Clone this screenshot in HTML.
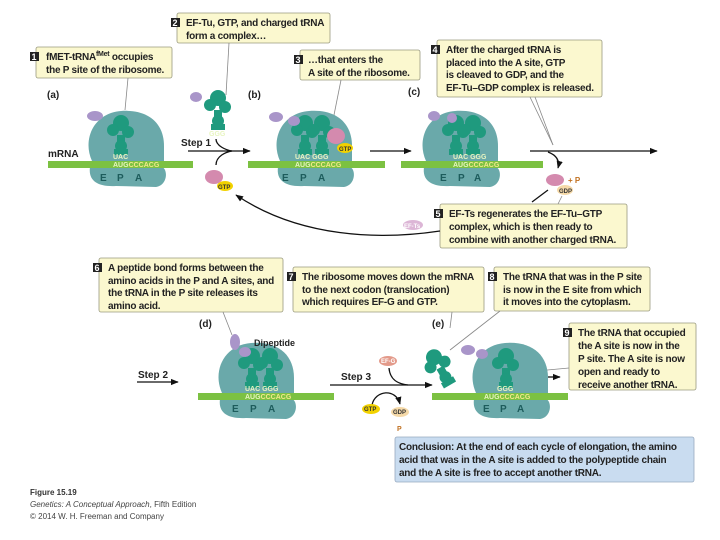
<!DOCTYPE html>
<html><head><meta charset="utf-8"><style>
html,body{margin:0;padding:0;background:#fff}
svg{display:block;font-family:"Liberation Sans",sans-serif}
.cb{fill:#fbf8cf;stroke:#9a9a80;stroke-width:.8}
.t{font-size:10px;font-weight:bold;fill:#222;letter-spacing:-0.25px}
.n{font-size:9px;font-weight:bold;fill:#fff}
.nb{fill:#222}
.s{font-size:10px;font-weight:bold;fill:#1d5c5c}
.c{font-size:7px;font-weight:bold;fill:#e8f5c0}
.lbl{font-size:10px;font-weight:bold;fill:#222}
.ln{stroke:#888;stroke-width:.8;fill:none}
.ar{stroke:#111;stroke-width:1.3;fill:none}
</style></head><body>
<svg width="720" height="540" viewBox="0 0 720 540">
<defs>
<marker id="m" viewBox="0 0 10 10" refX="9" refY="5" markerWidth="6" markerHeight="6" orient="auto"><path d="M0,1 L10,5 L0,9 z" fill="#111"/></marker>
<g id="rib">
<path d="M-34,0 C-44,-22 -32,-48 -5,-50 C22,-52 38,-38 38,-15 L38,0 Z" fill="#6aa9aa"/>
<path d="M-36,6 C-38,20 -28,26 -10,25 L30,26 C42,24 42,8 36,6 Z" fill="#6aa9aa"/>
</g>
<g id="trna">
<circle cx="0" cy="-32" r="8" fill="#1f9a7e"/><circle cx="-8" cy="-25" r="6" fill="#1f9a7e"/><circle cx="7" cy="-23" r="6" fill="#1f9a7e"/>
<rect x="-4" y="-20" width="8" height="8" fill="#1f9a7e"/><circle cx="0" cy="-9" r="6" fill="#1f9a7e"/><rect x="-7" y="-6" width="14" height="6" fill="#1f9a7e"/>
</g>
</defs>

<rect class="cb" x="36" y="47" width="136" height="31" rx="2"/>
<rect x="30" y="52" width="9" height="9" class="nb"/><text x="31.5" y="60" class="n">1</text>
<text x="46" y="60" class="t">fMET-tRNA<tspan font-size="7" dy="-4">fMet</tspan><tspan dy="4"> occupies</tspan></text>
<text x="46" y="73" class="t">the P site of the ribosome.</text>
<line class="ln" x1="128" y1="78" x2="125" y2="110"/>
<rect class="cb" x="177" y="13" width="153" height="30" rx="2"/>
<rect x="171" y="18" width="9" height="9" class="nb"/><text x="172.5" y="26" class="n">2</text>
<text x="186" y="26" class="t">EF-Tu, GTP, and charged tRNA</text>
<text x="186" y="39" class="t">form a complex…</text>
<line class="ln" x1="229" y1="43" x2="226" y2="95"/>
<rect class="cb" x="300" y="50" width="120" height="30" rx="2"/>
<rect x="294" y="55" width="9" height="9" class="nb"/><text x="295.5" y="63" class="n">3</text>
<text x="308" y="63" class="t">…that enters the</text>
<text x="308" y="76" class="t">A site of the ribosome.</text>
<line class="ln" x1="341" y1="80" x2="334" y2="115"/>
<rect class="cb" x="437" y="40" width="165" height="57" rx="2"/>
<rect x="431" y="45" width="9" height="9" class="nb"/><text x="432.5" y="53" class="n">4</text>
<text x="446" y="53" class="t">After the charged tRNA is</text>
<text x="446" y="66" class="t">placed into the A site, GTP</text>
<text x="446" y="78" class="t">is cleaved to GDP, and the</text>
<text x="446" y="91" class="t">EF-Tu–GDP complex is released.</text>
<line class="ln" x1="530" y1="97" x2="553" y2="145"/><line class="ln" x1="535" y1="97" x2="553" y2="145"/>
<rect class="cb" x="440" y="204" width="187" height="44" rx="2"/>
<rect x="434" y="209" width="9" height="9" class="nb"/><text x="435.5" y="217" class="n">5</text>
<text x="449" y="217" class="t">EF-Ts regenerates the EF-Tu–GTP</text>
<text x="449" y="230" class="t">complex, which is then ready to</text>
<text x="449" y="243" class="t">combine with another charged tRNA.</text>
<line class="ln" x1="558" y1="204" x2="562" y2="196"/>
<rect class="cb" x="99" y="258" width="184" height="54" rx="2"/>
<rect x="93" y="263" width="9" height="9" class="nb"/><text x="94.5" y="271" class="n">6</text>
<text x="108" y="271" class="t">A peptide bond forms between the</text>
<text x="108" y="284" class="t">amino acids in the P and A sites, and</text>
<text x="108" y="296" class="t">the tRNA in the P site releases its</text>
<text x="108" y="309" class="t">amino acid.</text>
<line class="ln" x1="223" y1="312" x2="232" y2="335"/>
<rect class="cb" x="293" y="267" width="191" height="45" rx="2"/>
<rect x="287" y="272" width="9" height="9" class="nb"/><text x="288.5" y="280" class="n">7</text>
<text x="302" y="280" class="t">The ribosome moves down the mRNA</text>
<text x="302" y="293" class="t">to the next codon (translocation)</text>
<text x="302" y="305" class="t">which requires EF-G and GTP.</text>
<line class="ln" x1="452" y1="312" x2="450" y2="328"/>
<rect class="cb" x="494" y="267" width="156" height="44" rx="2"/>
<rect x="488" y="272" width="9" height="9" class="nb"/><text x="489.5" y="280" class="n">8</text>
<text x="503" y="280" class="t">The tRNA that was in the P site</text>
<text x="503" y="293" class="t">is now in the E site from which</text>
<text x="503" y="305" class="t">it moves into the cytoplasm.</text>
<line class="ln" x1="500" y1="311" x2="450" y2="350"/>
<rect class="cb" x="569" y="323" width="127" height="67" rx="2"/>
<rect x="563" y="328" width="9" height="9" class="nb"/><text x="564.5" y="336" class="n">9</text>
<text x="578" y="336" class="t">The tRNA that occupied</text>
<text x="578" y="349" class="t">the A site is now in the</text>
<text x="578" y="362" class="t">P site. The A site is now</text>
<text x="578" y="375" class="t">open and ready to</text>
<text x="578" y="388" class="t">receive another tRNA.</text>
<line class="ln" x1="569" y1="368" x2="515" y2="373"/>
<rect x="395" y="437" width="299" height="45" rx="2" fill="#c9dcf0" stroke="#98aac0" stroke-width=".8"/>
<text x="399" y="450" class="t">Conclusion: At the end of each cycle of elongation, the amino</text>
<text x="399" y="463" class="t">acid that was in the A site is added to the polypeptide chain</text>
<text x="399" y="476" class="t">and the A site is free to accept another tRNA.</text>

<text x="47" y="98" class="lbl">(a)</text><text x="248" y="98" class="lbl">(b)</text><text x="408" y="95" class="lbl">(c)</text>
<text x="199" y="327" class="lbl">(d)</text><text x="432" y="327" class="lbl">(e)</text>
<text x="48" y="157" class="lbl">mRNA</text>

<!-- (a) -->
<use href="#rib" x="126" y="161"/>
<rect x="48" y="161" width="145" height="7" fill="#7cc142"/>
<use href="#trna" x="121" y="155"/>
<ellipse cx="95" cy="116" rx="8" ry="5" fill="#a995c9"/>
<text x="113" y="159" class="c">UAC</text><text x="113" y="167" class="c">AUG<tspan fill="#f4e98a">CCCACG</tspan></text>
<text x="100" y="181" class="s">E</text><text x="117" y="181" class="s">P</text><text x="135" y="181" class="s">A</text>

<!-- free complex -->
<use href="#trna" x="218" y="130"/>
<ellipse cx="196" cy="97" rx="6" ry="5" fill="#a995c9"/>
<text x="209" y="136" class="c">GGG</text>
<text x="181" y="146" class="lbl">Step 1</text>
<line class="ar" x1="188" y1="151" x2="250" y2="151" marker-end="url(#m)"/>
<path class="ar" d="M216,139 C216,146 226,150 232,151"/>
<path class="ar" d="M216,165 C216,156 226,152 232,151"/>
<ellipse cx="214" cy="177" rx="9" ry="7" fill="#d48aae"/>
<ellipse cx="225" cy="186" rx="8" ry="5" fill="#f2d200"/>
<text x="218" y="189" font-size="6" font-weight="bold" fill="#333">GTP</text>
<path class="ar" d="M440,231 C380,240 300,238 236,195" marker-end="url(#m)"/>
<line class="ar" x1="548" y1="190" x2="532" y2="202"/>
<ellipse cx="413" cy="225" rx="10" ry="5" fill="#dcb6d6"/><text x="404" y="228" font-size="6" fill="#fff" font-weight="bold">EF-Ts</text>

<!-- (b) -->
<use href="#rib" x="314" y="161"/>
<rect x="248" y="161" width="137" height="7" fill="#7cc142"/>
<use href="#trna" x="305" y="155"/><use href="#trna" x="322" y="155"/>
<ellipse cx="276" cy="117" rx="7" ry="5" fill="#a995c9"/><ellipse cx="294" cy="121" rx="6" ry="5" fill="#a995c9"/>
<ellipse cx="336" cy="136" rx="9" ry="8" fill="#d48aae"/><ellipse cx="345" cy="148" rx="8" ry="5" fill="#f2d200"/>
<text x="339" y="151" font-size="6" font-weight="bold" fill="#333">GTP</text>
<text x="295" y="159" class="c">UAC GGG</text><text x="295" y="167" class="c">AUG<tspan fill="#f4e98a">CCCACG</tspan></text>
<text x="282" y="181" class="s">E</text><text x="300" y="181" class="s">P</text><text x="318" y="181" class="s">A</text>
<line class="ar" x1="370" y1="151" x2="411" y2="151" marker-end="url(#m)"/>

<!-- (c) -->
<use href="#rib" x="460" y="161"/>
<rect x="401" y="161" width="142" height="7" fill="#7cc142"/>
<use href="#trna" x="456" y="155"/><use href="#trna" x="473" y="155"/>
<ellipse cx="434" cy="116" rx="6" ry="5" fill="#a995c9"/><ellipse cx="452" cy="118" rx="5" ry="5" fill="#a995c9"/>
<text x="453" y="159" class="c">UAC GGG</text><text x="453" y="167" class="c">AUG<tspan fill="#f4e98a">CCCACG</tspan></text>
<text x="440" y="181" class="s">E</text><text x="458" y="181" class="s">P</text><text x="474" y="181" class="s">A</text>
<line class="ar" x1="530" y1="151" x2="657" y2="151" marker-end="url(#m)"/>
<path class="ar" d="M548,152 C556,155 560,160 558,168" marker-end="url(#m)"/>
<ellipse cx="555" cy="180" rx="9" ry="6" fill="#d48aae"/><ellipse cx="565" cy="190" rx="8" ry="5" fill="#f5d9a8"/>
<text x="559" y="193" font-size="6" font-weight="bold" fill="#333">GDP</text>
<text x="568" y="183" font-size="8" font-weight="bold" fill="#c07020">+ P</text>

<!-- (d) -->
<use href="#rib" x="256" y="393"/>
<rect x="198" y="393" width="136" height="7" fill="#7cc142"/>
<use href="#trna" x="252" y="388"/><use href="#trna" x="270" y="388"/>
<ellipse cx="235" cy="342" rx="5" ry="8" fill="#a995c9"/><ellipse cx="245" cy="352" rx="6" ry="5" fill="#a995c9"/>
<text x="254" y="346" font-size="9" font-weight="bold" fill="#222">Dipeptide</text>
<text x="245" y="391" class="c">UAC GGG</text><text x="245" y="399" class="c">AUG<tspan fill="#f4e98a">CCCACG</tspan></text>
<text x="232" y="412" class="s">E</text><text x="250" y="412" class="s">P</text><text x="268" y="412" class="s">A</text>
<text x="138" y="378" class="lbl">Step 2</text>
<line class="ar" x1="137" y1="382" x2="178" y2="382" marker-end="url(#m)"/>
<text x="341" y="380" class="lbl">Step 3</text>
<line class="ar" x1="330" y1="385" x2="432" y2="385" marker-end="url(#m)"/>
<ellipse cx="388" cy="361" rx="9" ry="5" fill="#e39a8a"/><text x="381" y="363" font-size="6" fill="#fff" font-weight="bold">EF-G</text>
<path class="ar" d="M389,368 C390,380 398,384 408,385"/>
<path class="ar" d="M372,405 C375,390 396,388 400,404" marker-end="url(#m)"/>
<ellipse cx="371" cy="409" rx="9" ry="5" fill="#f2d200"/><text x="364" y="411" font-size="6" font-weight="bold" fill="#333">GTP</text>
<ellipse cx="400" cy="412" rx="9" ry="5" fill="#f5d9a8"/><text x="393" y="414" font-size="6" font-weight="bold" fill="#333">GDP</text>
<text x="397" y="431" font-size="7" font-weight="bold" fill="#c07020">P</text>

<!-- (e) -->
<use href="#rib" x="510" y="393"/>
<rect x="432" y="393" width="136" height="7" fill="#7cc142"/>
<g transform="translate(450,385) rotate(-30)"><use href="#trna"/></g>
<use href="#trna" x="506" y="388"/>
<ellipse cx="468" cy="350" rx="7" ry="5" fill="#a995c9"/><ellipse cx="482" cy="354" rx="6" ry="5" fill="#a995c9"/>
<text x="484" y="399" class="c">AUG<tspan fill="#f4e98a">CCCACG</tspan></text><text x="497" y="391" class="c">GGG</text>
<text x="483" y="412" class="s">E</text><text x="500" y="412" class="s">P</text><text x="517" y="412" class="s">A</text>
<line class="ar" x1="548" y1="377" x2="560" y2="377" marker-end="url(#m)"/>

<text x="30" y="495" font-size="8" font-weight="bold" fill="#333">Figure 15.19</text>
<text x="30" y="507" font-size="8" fill="#444"><tspan font-style="italic">Genetics: A Conceptual Approach</tspan>, Fifth Edition</text>
<text x="30" y="519" font-size="8" fill="#444">© 2014 W. H. Freeman and Company</text>
</svg>
</body></html>
